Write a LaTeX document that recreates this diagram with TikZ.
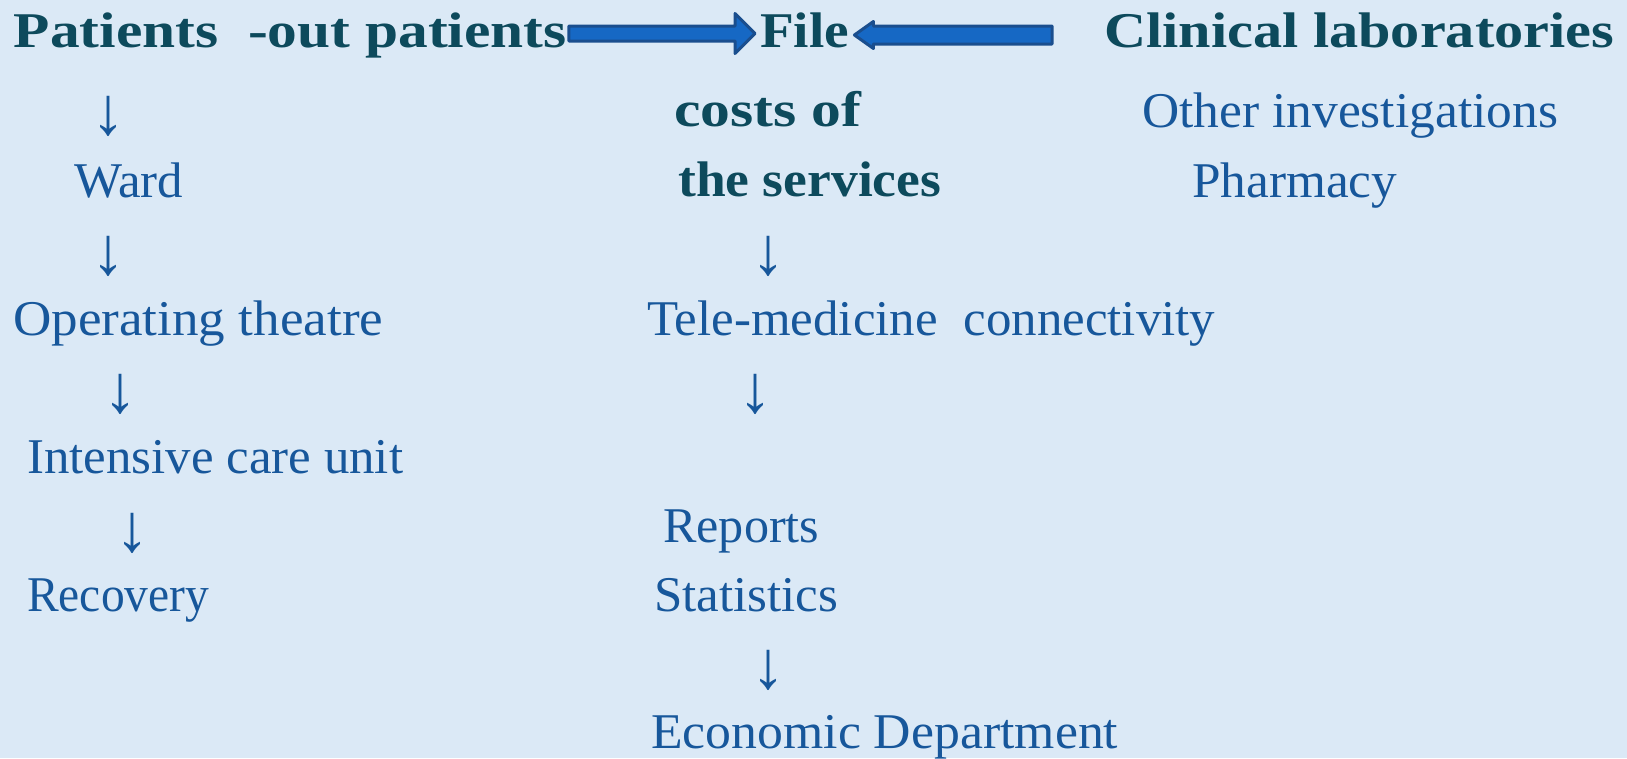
\documentclass[tikz,border=0pt]{standalone}
\usepackage{fontspec}
\setmainfont{Liberation Serif}
\usetikzlibrary{calc}
\definecolor{bg}{HTML}{DBE9F6}
\definecolor{hdc}{HTML}{0D4A5C}
\definecolor{txc}{HTML}{17579B}
\definecolor{arf}{HTML}{1668C4}
\definecolor{ard}{HTML}{1A4E8E}
\newcommand{\hw}[2]{\resizebox{#1pt}{\height}{#2}}
\begin{document}
\begin{tikzpicture}[x=1pt,y=-1pt,
  hd/.style={font=\fontsize{50}{60}\selectfont\bfseries, text=hdc, inner sep=0pt, anchor=base west},
  tx/.style={font=\fontsize{50}{60}\selectfont, text=txc, inner sep=0pt, anchor=base west},
  dn/.style={font=\fontsize{68}{80}\selectfont, text=txc, inner sep=0pt, anchor=base},
  barrow/.style={fill=arf, draw=ard, line width=3pt, line join=round}]
\fill[bg] (0,0) rectangle (1627,758);
\useasboundingbox (0,0) rectangle (1627,758);
% top row
\node[hd] (pat)  at (13.5,47) {\hw{553}{Patients\ \ -out patients}};
\node[hd] (file) at (760,47)  {\hw{89}{File}};
\node[hd] (clin) at (1104,47) {\hw{510}{Clinical laboratories}};
% left column
\node[dn] (d1) at (108,134) {↓};
\node[tx] (ward) at (74,197) {\hw{109}{Ward}};
\node[dn] (d2) at (108,274) {↓};
\node[tx] (op) at (13,335) {\hw{370}{Operating theatre}};
\node[dn] (d4) at (120,412) {↓};
\node[tx] (icu) at (27,473) {\hw{376}{Intensive care unit}};
\node[dn] (d6) at (132,551) {↓};
\node[tx] (rec) at (27,611) {\hw{182}{Recovery}};
% middle column
\node[hd] (cost1) at (674,126) {\hw{187}{costs of}};
\node[hd] (cost2) at (678,196) {\hw{263}{the services}};
\node[dn] (d3) at (768,274) {↓};
\node[tx] (tele) at (647,335) {\hw{568}{Tele-medicine\ \ connectivity}};
\node[dn] (d5) at (755,412) {↓};
\node[tx] (rep) at (663,542) {\hw{156}{Reports}};
\node[tx] (stat) at (654,611) {\hw{184}{Statistics}};
\node[dn] (d7) at (768,688) {↓};
\node[tx] (eco) at (651,748) {\hw{467}{Economic Department}};
% right column
\node[tx] (oth) at (1142,127) {\hw{416}{Other investigations}};
\node[tx] (pharm) at (1192,197) {\hw{205}{Pharmacy}};
% block arrows
\coordinate (a1s) at ($(pat.base east)+(2,-13.5)$);
\coordinate (a1t) at ($(file.base west)+(-5,-13.5)$);
\draw[barrow] ($(a1s)+(0,-7.5)$) -- ($(a1t)+(-20,-7.5)$) -- ($(a1t)+(-20,-20)$) -- (a1t)
  -- ($(a1t)+(-20,20)$) -- ($(a1t)+(-20,7.5)$) -- ($(a1s)+(0,7.5)$) -- cycle;
\coordinate (a2t) at ($(file.base east)+(5,-12)$);
\coordinate (a2e) at ($(clin.base west)+(-52,-12)$);
\draw[barrow] (a2t) -- ($(a2t)+(19,-13.5)$) -- ($(a2t)+(19,-9)$) -- ($(a2e)+(0,-9)$)
  -- ($(a2e)+(0,9)$) -- ($(a2t)+(19,9)$) -- ($(a2t)+(19,13.5)$) -- cycle;
\end{tikzpicture}
\end{document}
